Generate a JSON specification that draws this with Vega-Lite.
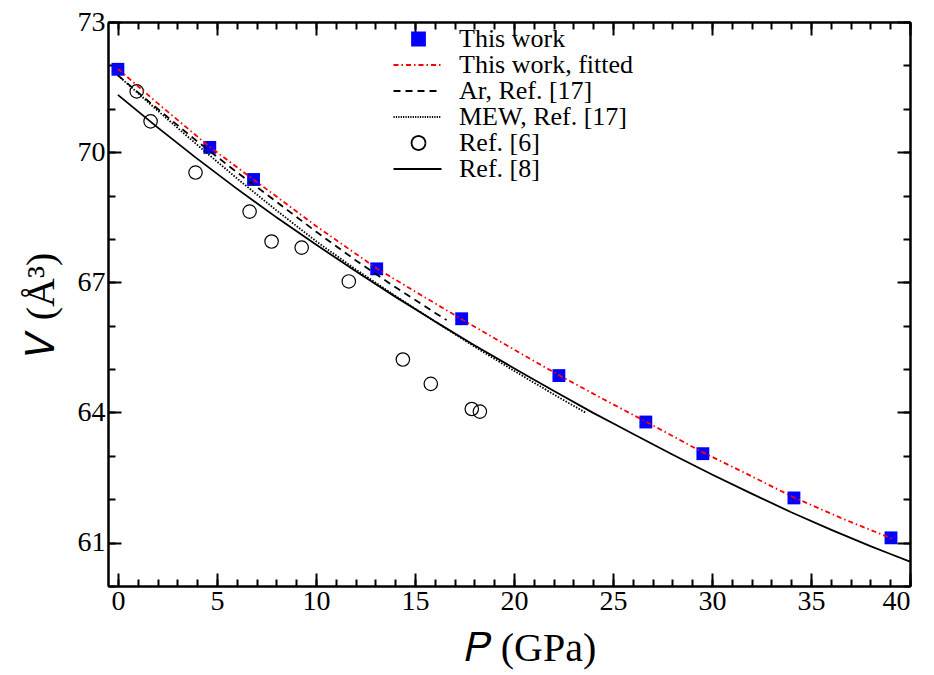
{
  "$schema": "https://vega.github.io/schema/vega-lite/v6.json",
  "width": 802,
  "height": 564,
  "autosize": {"type": "none"},
  "padding": {"left": 108, "top": 22, "right": 24, "bottom": 89},
  "background": "white",
  "datasets": {
    "sqa": [
      {"series": "This work", "P": 0.0, "V": 71.91},
      {"series": "This work", "P": 4.64, "V": 70.11},
      {"series": "This work", "P": 6.85, "V": 69.37},
      {"series": "This work", "P": 13.07, "V": 67.31},
      {"series": "This work", "P": 17.36, "V": 66.16}
    ],
    "sqb": [
      {"series": "This work", "P": 22.27, "V": 64.85},
      {"series": "This work", "P": 26.66, "V": 63.78},
      {"series": "This work", "P": 29.54, "V": 63.05},
      {"series": "This work", "P": 34.14, "V": 62.03},
      {"series": "This work", "P": 39.04, "V": 61.11}
    ],
    "circa": [
      {"series": "Ref. [6]", "P": 0.95, "V": 71.40},
      {"series": "Ref. [6]", "P": 1.65, "V": 70.71},
      {"series": "Ref. [6]", "P": 3.92, "V": 69.53},
      {"series": "Ref. [6]", "P": 6.65, "V": 68.63},
      {"series": "Ref. [6]", "P": 7.76, "V": 67.94},
      {"series": "Ref. [6]", "P": 9.28, "V": 67.80}
    ],
    "circb": [
      {"series": "Ref. [6]", "P": 11.66, "V": 67.02},
      {"series": "Ref. [6]", "P": 14.39, "V": 65.22},
      {"series": "Ref. [6]", "P": 15.80, "V": 64.66},
      {"series": "Ref. [6]", "P": 17.87, "V": 64.08},
      {"series": "Ref. [6]", "P": 18.28, "V": 64.02}
    ],
    "red": [
      {"series": "This work, fitted", "P": 0, "V": 71.92},
      {"series": "This work, fitted", "P": 2, "V": 71.13},
      {"series": "This work, fitted", "P": 4.64, "V": 70.12},
      {"series": "This work, fitted", "P": 6.85, "V": 69.37},
      {"series": "This work, fitted", "P": 10, "V": 68.30},
      {"series": "This work, fitted", "P": 13.07, "V": 67.32},
      {"series": "This work, fitted", "P": 15, "V": 66.79},
      {"series": "This work, fitted", "P": 17.36, "V": 66.15},
      {"series": "This work, fitted", "P": 20, "V": 65.45},
      {"series": "This work, fitted", "P": 22.27, "V": 64.86},
      {"series": "This work, fitted", "P": 24.5, "V": 64.31},
      {"series": "This work, fitted", "P": 26.66, "V": 63.79},
      {"series": "This work, fitted", "P": 29.54, "V": 63.08},
      {"series": "This work, fitted", "P": 32, "V": 62.53},
      {"series": "This work, fitted", "P": 34.14, "V": 62.04},
      {"series": "This work, fitted", "P": 36.5, "V": 61.57},
      {"series": "This work, fitted", "P": 39.1, "V": 61.09}
    ],
    "black": [
      {"series": "Ar, Ref. [17]", "P": 0, "V": 71.77},
      {"series": "Ar, Ref. [17]", "P": 2, "V": 71.00},
      {"series": "Ar, Ref. [17]", "P": 4, "V": 70.25},
      {"series": "Ar, Ref. [17]", "P": 6, "V": 69.54},
      {"series": "Ar, Ref. [17]", "P": 8, "V": 68.86},
      {"series": "Ar, Ref. [17]", "P": 10, "V": 68.17},
      {"series": "Ar, Ref. [17]", "P": 12, "V": 67.51},
      {"series": "Ar, Ref. [17]", "P": 14, "V": 66.89},
      {"series": "Ar, Ref. [17]", "P": 16, "V": 66.30},
      {"series": "Ar, Ref. [17]", "P": 16.6, "V": 66.13},
      {"series": "MEW, Ref. [17]", "P": 0, "V": 71.77},
      {"series": "MEW, Ref. [17]", "P": 2, "V": 70.96},
      {"series": "MEW, Ref. [17]", "P": 4, "V": 70.17},
      {"series": "MEW, Ref. [17]", "P": 6, "V": 69.40},
      {"series": "MEW, Ref. [17]", "P": 8, "V": 68.66},
      {"series": "MEW, Ref. [17]", "P": 10, "V": 67.95},
      {"series": "MEW, Ref. [17]", "P": 12, "V": 67.30},
      {"series": "MEW, Ref. [17]", "P": 14, "V": 66.69},
      {"series": "MEW, Ref. [17]", "P": 16, "V": 66.10},
      {"series": "MEW, Ref. [17]", "P": 18, "V": 65.52},
      {"series": "MEW, Ref. [17]", "P": 20, "V": 64.96},
      {"series": "MEW, Ref. [17]", "P": 22, "V": 64.42},
      {"series": "MEW, Ref. [17]", "P": 23.6, "V": 64.00},
      {"series": "Ref. [8]", "P": 0, "V": 71.32},
      {"series": "Ref. [8]", "P": 2, "V": 70.57},
      {"series": "Ref. [8]", "P": 4, "V": 69.85},
      {"series": "Ref. [8]", "P": 6, "V": 69.16},
      {"series": "Ref. [8]", "P": 8, "V": 68.50},
      {"series": "Ref. [8]", "P": 10, "V": 67.87},
      {"series": "Ref. [8]", "P": 12, "V": 67.26},
      {"series": "Ref. [8]", "P": 14, "V": 66.67},
      {"series": "Ref. [8]", "P": 16, "V": 66.10},
      {"series": "Ref. [8]", "P": 18, "V": 65.55},
      {"series": "Ref. [8]", "P": 20, "V": 65.02},
      {"series": "Ref. [8]", "P": 22, "V": 64.50},
      {"series": "Ref. [8]", "P": 24, "V": 63.99},
      {"series": "Ref. [8]", "P": 26, "V": 63.51},
      {"series": "Ref. [8]", "P": 28, "V": 63.03},
      {"series": "Ref. [8]", "P": 30, "V": 62.57},
      {"series": "Ref. [8]", "P": 32, "V": 62.13},
      {"series": "Ref. [8]", "P": 34, "V": 61.70},
      {"series": "Ref. [8]", "P": 36, "V": 61.30},
      {"series": "Ref. [8]", "P": 38, "V": 60.92},
      {"series": "Ref. [8]", "P": 40, "V": 60.56}
    ]
  },
  "config": {
    "view": {"stroke": null},
    "font": "Liberation Serif",
    "axis": {
      "grid": false,
      "domainColor": "black",
      "domainWidth": 2,
      "tickColor": "black",
      "tickWidth": 2,
      "labelFont": "Liberation Serif",
      "labelFontSize": 28,
      "labelColor": "black",
      "titleFont": "Liberation Serif",
      "titleFontSize": 40,
      "titleFontWeight": "normal",
      "titleColor": "black"
    },
    "legend": {
      "labelFont": "Liberation Serif",
      "labelFontSize": 26,
      "labelColor": "black",
      "labelLimit": 400
    }
  },
  "resolve": {"axis": {"x": "independent", "y": "independent"}},
  "layer": [
    {
      "data": {"name": "sqa"},
      "mark": {"type": "point", "shape": "square", "filled": true, "color": "#0000ff", "fill": "#0000ff", "strokeWidth": 0, "size": 165, "opacity": 1},
      "encoding": {
        "x": {
          "field": "P", "type": "quantitative",
          "scale": {"domain": [-0.5, 40], "nice": false, "zero": false},
          "axis": {
            "orient": "bottom",
            "title": "𝑃 (GPa)",
            "titleX": 422,
            "titleAlign": "center",
            "titlePadding": 13,
            "tickSize": -13,
            "labelPadding": 14,
            "values": [0, 5, 10, 15, 20, 25, 30, 35, 40]
          }
        },
        "y": {
          "field": "V", "type": "quantitative",
          "scale": {"domain": [60, 73], "nice": false, "zero": false},
          "axis": {
            "orient": "left",
            "title": "𝑉 (Å³)",
            "titlePadding": 16,
            "tickSize": -13,
            "labelPadding": 16,
            "values": [61, 64, 67, 70, 73]
          }
        }
      }
    },
    {
      "data": {"name": "circa"},
      "mark": {"type": "point", "shape": "circle", "filled": false, "stroke": "black", "strokeWidth": 1.2, "size": 180, "opacity": 1},
      "encoding": {
        "x": {
          "field": "P", "type": "quantitative",
          "axis": {
            "orient": "bottom", "title": null, "labels": false, "tickSize": -7,
            "values": [0,1,2,3,4,5,6,7,8,9,10,11,12,13,14,15,16,17,18,19,20,21,22,23,24,25,26,27,28,29,30,31,32,33,34,35,36,37,38,39,40]
          }
        },
        "y": {
          "field": "V", "type": "quantitative",
          "axis": {
            "orient": "left", "title": null, "labels": false, "tickSize": -7,
            "values": [60,61,62,63,64,65,66,67,68,69,70,71,72,73]
          }
        }
      }
    },
    {
      "data": {"name": "sqb"},
      "mark": {"type": "point", "shape": "square", "filled": true, "color": "#0000ff", "fill": "#0000ff", "strokeWidth": 0, "size": 165, "opacity": 1},
      "encoding": {
        "x": {
          "field": "P", "type": "quantitative",
          "axis": {
            "orient": "top", "title": null, "labels": false, "tickSize": -13,
            "values": [0, 5, 10, 15, 20, 25, 30, 35, 40]
          }
        },
        "y": {
          "field": "V", "type": "quantitative",
          "axis": {
            "orient": "right", "title": null, "labels": false, "tickSize": -13,
            "values": [61, 64, 67, 70, 73]
          }
        }
      }
    },
    {
      "data": {"name": "circb"},
      "mark": {"type": "point", "shape": "circle", "filled": false, "stroke": "black", "strokeWidth": 1.2, "size": 180, "opacity": 1},
      "encoding": {
        "x": {
          "field": "P", "type": "quantitative",
          "axis": {
            "orient": "top", "title": null, "labels": false, "tickSize": -7,
            "values": [0,1,2,3,4,5,6,7,8,9,10,11,12,13,14,15,16,17,18,19,20,21,22,23,24,25,26,27,28,29,30,31,32,33,34,35,36,37,38,39,40]
          }
        },
        "y": {
          "field": "V", "type": "quantitative",
          "axis": {
            "orient": "right", "title": null, "labels": false, "tickSize": -7,
            "values": [60,61,62,63,64,65,66,67,68,69,70,71,72,73]
          }
        }
      }
    },
    {
      "data": {"name": "black"},
      "mark": {"type": "line", "strokeWidth": 1.8},
      "encoding": {
        "x": {"field": "P", "type": "quantitative", "axis": null},
        "y": {"field": "V", "type": "quantitative", "axis": null},
        "color": {
          "field": "series", "type": "nominal",
          "scale": {
            "domain": ["This work", "This work, fitted", "Ar, Ref. [17]", "MEW, Ref. [17]", "Ref. [6]", "Ref. [8]"],
            "range": ["#0000ff", "#ff0000", "#000000", "#000000", "#000000", "#000000"]
          },
          "legend": {
            "orient": "none",
            "legendX": 286,
            "legendY": 4,
            "title": null,
            "padding": 0,
            "rowPadding": -1,
            "symbolSize": 144,
            "symbolStrokeWidth": 1.8,
            "labelOffset": 39,
            "encode": {
              "symbols": {
                "update": {
                  "shape": {"signal": "datum.value === 'This work' ? 'M0.84,-1.08L3,-1.08L3,1.08L0.84,1.08Z' : datum.value === 'Ref. [6]' ? 'M3.09,0L3,0.45L2.75,0.83L2.37,1.08L1.92,1.17L1.47,1.08L1.09,0.83L0.84,0.45L0.75,0L0.84,-0.45L1.09,-0.83L1.47,-1.08L1.92,-1.17L2.37,-1.08L2.75,-0.83L3,-0.45Z' : 'M-2.25,0L5.75,0'"},
                  "fill": {"signal": "datum.value === 'This work' ? '#0000ff' : 'transparent'"},
                  "stroke": {"signal": "datum.value === 'This work' ? 'transparent' : datum.value === 'This work, fitted' ? '#ff0000' : '#000000'"},
                  "strokeDash": {"signal": "datum.value === 'This work, fitted' ? [5,3,1.5,3] : datum.value === 'Ar, Ref. [17]' ? [7,5] : datum.value === 'MEW, Ref. [17]' ? [1.2,1.2] : [100,0]"}
                }
              }
            }
          }
        },
        "strokeDash": {
          "field": "series", "type": "nominal",
          "scale": {
            "domain": ["Ar, Ref. [17]", "MEW, Ref. [17]", "Ref. [8]"],
            "range": [[7, 5], [1.5, 1.5], [100, 0]]
          },
          "legend": null
        }
      }
    },
    {
      "data": {"name": "red"},
      "mark": {"type": "line", "strokeWidth": 1.8, "color": "#ff0000", "strokeDash": [5, 3, 1.5, 3]},
      "encoding": {
        "x": {"field": "P", "type": "quantitative", "axis": null},
        "y": {"field": "V", "type": "quantitative", "axis": null}
      }
    }
  ]
}
